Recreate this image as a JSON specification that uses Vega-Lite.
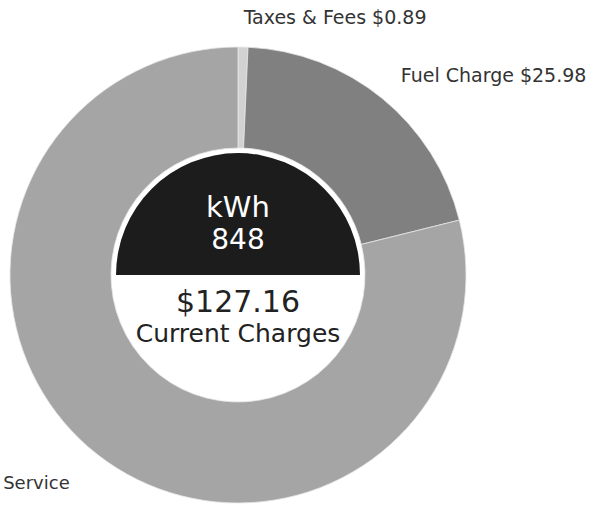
{
  "$schema": "https://vega.github.io/schema/vega-lite/v6.json",
  "width": 476,
  "height": 456,
  "autosize": {"type": "none"},
  "padding": {"left": 0, "top": 47, "right": 118, "bottom": 2},
  "background": "white",
  "view": {"stroke": null},
  "datasets": {
    "charges": [
      {"category": "Taxes & Fees", "label": "Taxes & Fees $0.89", "amount": 0.89, "rank": 1},
      {"category": "Fuel Charge", "label": "Fuel Charge $25.98", "amount": 25.98, "rank": 2},
      {"category": "Service", "label": "Service", "amount": 100.29, "rank": 3}
    ],
    "usage": [{"part": "kWh", "share": 1, "kwh": 848, "total": 127.16}]
  },
  "layer": [
    {
      "data": {"name": "charges"},
      "layer": [
        {
          "mark": {"type": "arc", "radius": 228, "radius2": 127, "stroke": "#e6e6e6", "strokeWidth": 0.8},
          "encoding": {
            "theta": {"field": "amount", "type": "quantitative", "stack": true},
            "order": {"field": "rank", "type": "quantitative"},
            "color": {
              "field": "category",
              "type": "nominal",
              "scale": {"domain": ["Taxes & Fees", "Fuel Charge", "Service"], "range": ["#d2d2d2", "#808080", "#a5a5a5"]},
              "legend": null
            }
          }
        },
        {
          "mark": {"type": "text", "radius": 257, "align": "left", "baseline": "middle", "font": "DejaVu Sans", "fontSize": 19, "color": "#333333"},
          "encoding": {
            "theta": {"field": "amount", "type": "quantitative", "stack": true},
            "order": {"field": "rank", "type": "quantitative"},
            "text": {"condition": {"test": "datum.category !== 'Service'", "field": "label"}, "value": ""}
          }
        },
        {
          "mark": {"type": "text", "radius": 265, "dx": -5, "align": "right", "baseline": "middle", "font": "DejaVu Sans", "fontSize": 18, "color": "#333333"},
          "encoding": {
            "theta": {"field": "amount", "type": "quantitative", "stack": true},
            "order": {"field": "rank", "type": "quantitative"},
            "text": {"condition": {"test": "datum.category === 'Service'", "field": "label"}, "value": ""}
          }
        }
      ]
    },
    {
      "data": {"name": "usage"},
      "layer": [
        {
          "mark": {"type": "arc", "radius": 122, "color": "#1c1c1c"},
          "encoding": {
            "theta": {"field": "share", "type": "quantitative", "stack": true, "scale": {"range": [-1.5707963, 1.5707963]}}
          }
        },
        {
          "mark": {"type": "text", "dy": -67, "baseline": "middle", "align": "center", "font": "DejaVu Sans", "fontSize": 29, "color": "white"},
          "encoding": {"text": {"field": "part"}}
        },
        {
          "mark": {"type": "text", "dy": -34, "baseline": "middle", "align": "center", "font": "DejaVu Sans", "fontSize": 28, "color": "white"},
          "encoding": {"text": {"field": "kwh", "type": "quantitative"}}
        },
        {
          "mark": {"type": "text", "dy": 28, "baseline": "middle", "align": "center", "font": "DejaVu Sans", "fontSize": 30, "color": "#222222"},
          "encoding": {"text": {"field": "total", "type": "quantitative", "format": "$.2f"}}
        },
        {
          "mark": {"type": "text", "dy": 59, "baseline": "middle", "align": "center", "font": "DejaVu Sans", "fontSize": 25, "color": "#222222"},
          "encoding": {"text": {"value": "Current Charges"}}
        }
      ]
    }
  ],
  "resolve": {"scale": {"theta": "independent"}}
}
